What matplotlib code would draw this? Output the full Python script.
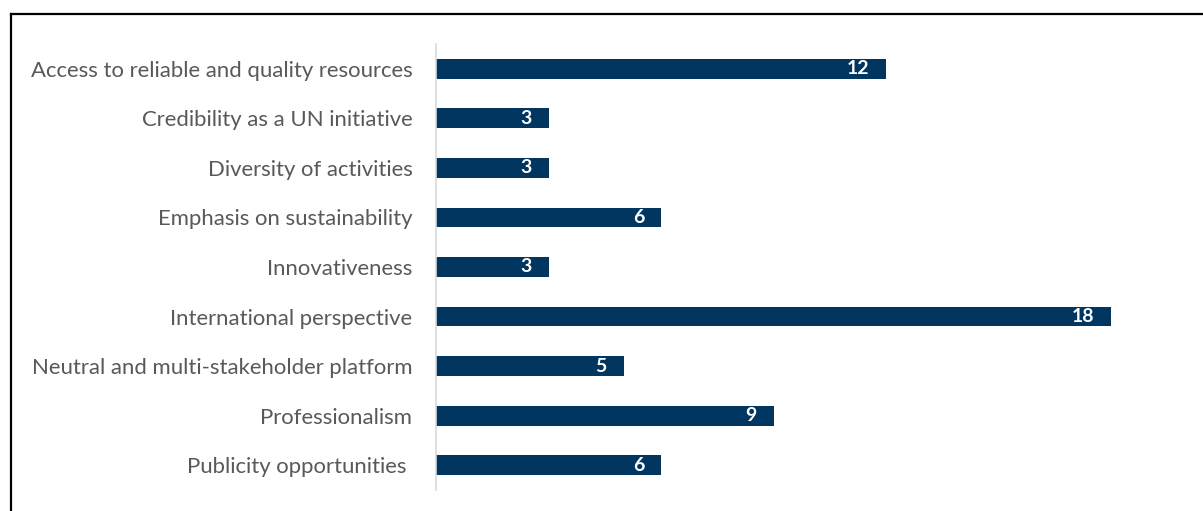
import matplotlib
matplotlib.use("Agg")
import matplotlib.pyplot as plt
from matplotlib.lines import Line2D

categories = [
    "Access to reliable and quality resources",
    "Credibility as a UN initiative",
    "Diversity of activities",
    "Emphasis on sustainability",
    "Innovativeness",
    "International perspective",
    "Neutral and multi-stakeholder platform",
    "Professionalism",
    "Publicity opportunities ",
]
values = [12, 3, 3, 6, 3, 18, 5, 9, 6]

W, H = 1203, 511
fig = plt.figure(figsize=(W / 100, H / 100), dpi=100)
plt.rcParams['font.family'] = ['Lato', 'DejaVu Sans']

left, right, top, bottom = 436, 1186, 44, 490
ax = fig.add_axes([left / W, 1 - bottom / H, (right - left) / W, (bottom - top) / H])

bar_color = "#003660"
y = list(range(len(categories)))
bars = ax.barh(y, values, height=0.4, color=bar_color)
ax.set_ylim(len(categories) - 0.5, -0.5)
ax.set_xlim(0, 20)

ax.set_yticks(y)
ax.set_yticklabels(categories, fontsize=15.9, color="#595959")
ax.tick_params(axis="y", length=0, pad=17)
ax.set_xticks([])
for s in ["top", "right", "bottom"]:
    ax.spines[s].set_visible(False)
ax.spines["left"].set_color("#d9d9d9")
ax.spines["left"].set_linewidth(1.2)

for b, v in zip(bars, values):
    ax.annotate(str(v), xy=(b.get_width(), b.get_y() + b.get_height() / 2),
                xytext=(-17, 0), textcoords="offset pixels",
                ha="right", va="center", color="white", fontsize=14, fontweight="bold")

# outer frame (top and left)
fx = 11 / W
fy = 1 - 14 / H
fig.add_artist(Line2D([fx, 1.0], [fy, fy], transform=fig.transFigure, color="black", lw=1.6))
fig.add_artist(Line2D([fx, fx], [0, fy], transform=fig.transFigure, color="black", lw=1.6))

fig.savefig("out.png", dpi=100, facecolor="white")
